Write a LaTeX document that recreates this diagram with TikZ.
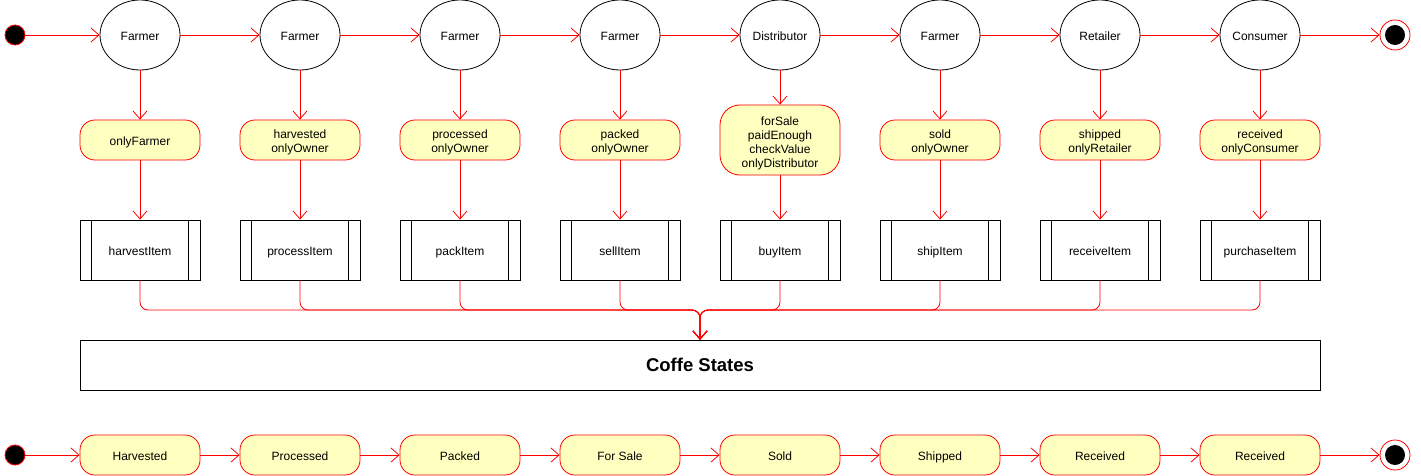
\documentclass[tikz,border=0pt]{standalone}
\usepackage{fontspec}
\setmainfont{Liberation Sans}
\usetikzlibrary{shapes.geometric,arrows.meta}
\definecolor{stred}{HTML}{FF0000}
\definecolor{styel}{HTML}{FFFFC0}
\tikzset{
  oneline/.style={text height=10.8pt,text depth=0pt},
  actor/.style={ellipse,draw=black,line width=0.8pt,minimum width=80pt,minimum height=70pt,inner sep=0pt,oneline,font=\fontsize{12}{14}\selectfont},
  guard/.style={rectangle,rounded corners=15pt,draw=stred,fill=styel,line width=0.8pt,minimum width=120pt,minimum height=40pt,inner sep=0pt,align=center,font=\fontsize{12}{14}\selectfont},
  statebox/.style={rectangle,rounded corners=15pt,draw=stred,fill=styel,line width=0.8pt,minimum width=120pt,minimum height=40pt,inner sep=0pt,oneline,font=\fontsize{12}{14}\selectfont},
  proc/.style={rectangle,draw=black,line width=0.8pt,minimum width=120pt,minimum height=60pt,inner sep=0pt,oneline,font=\fontsize{12}{14}\selectfont},
  startdot/.style={circle,draw=stred,fill=black,line width=0.8pt,minimum size=20pt,inner sep=0pt},
  enddot/.style={circle,draw=stred,fill=white,line width=0.8pt,minimum size=30pt,inner sep=0pt},
  conn/.style={draw=stred,line width=0.8pt,-{Straight Barb[length=8pt,width=14pt,line width=0.8pt]}},
}
\begin{document}
\begin{tikzpicture}[x=1pt,y=-1pt]
\useasboundingbox (0,0) rectangle (1421,476);
% top row
\node[startdot] (i1) at (15,35) {};
\node[enddot] (f1) at (1395,35) {};
\fill[black] (f1) circle (10pt);
\foreach \n/\x/\a/\g in {1/140/Farmer/onlyFarmer,2/300/Farmer/harvested\\onlyOwner,3/460/Farmer/processed\\onlyOwner,4/620/Farmer/packed\\onlyOwner,6/940/Farmer/sold\\onlyOwner,7/1100/Retailer/shipped\\onlyRetailer,8/1260/Consumer/received\\onlyConsumer}{
  \node[actor] (e\n) at (\x,35) {\a};
  \node[guard] (g\n) at (\x,140) {\rule{0pt}{13pt}\g};
}
\node[actor] (e5) at (780,35) {Distributor};
\node[guard,minimum height=70pt,rounded corners=20pt] (g5) at (780,140) {\rule{0pt}{15pt}forSale\\paidEnough\\checkValue\\onlyDistributor};
\foreach \n/\x/\p in {1/140/harvestItem,2/300/processItem,3/460/packItem,4/620/sellItem,5/780/buyItem,6/940/shipItem,7/1100/receiveItem,8/1260/purchaseItem}{
  \node[proc] (p\n) at (\x,250) {\p};
  \draw[line width=0.8pt] ([xshift=12pt]p\n.north west) -- ([xshift=12pt]p\n.south west);
  \draw[line width=0.8pt] ([xshift=-12pt]p\n.north east) -- ([xshift=-12pt]p\n.south east);
  \draw[conn] (e\n) -- (g\n);
  \draw[conn] (g\n) -- (p\n);
}
\draw[conn] (i1) -- (e1);
\foreach \a/\b in {1/2,2/3,3/4,4/5,5/6,6/7,7/8}{\draw[conn] (e\a) -- (e\b);}
\draw[conn] (e8) -- (f1);
% states box
\node[rectangle,draw=black,line width=0.8pt,minimum width=1240pt,minimum height=50pt,inner sep=0pt,font=\bfseries\fontsize{18.5}{20}\selectfont] (cs) at (700,365) {Coffe States};
\coordinate (m) at (700,310);
\foreach \n in {1,...,8}{\draw[conn,rounded corners=8pt] (p\n.south) |- (m) -- (cs.north);}
% bottom row
\node[startdot] (i2) at (15,455) {};
\node[enddot] (f2) at (1395,455) {};
\fill[black] (f2) circle (10pt);
\foreach \n/\x/\s in {1/140/Harvested,2/300/Processed,3/460/Packed,4/620/For Sale,5/780/Sold,6/940/Shipped,7/1100/Received,8/1260/Received}{
  \node[statebox] (b\n) at (\x,455) {\s};
}
\draw[conn] (i2) -- (b1);
\foreach \a/\b in {1/2,2/3,3/4,4/5,5/6,6/7,7/8}{\draw[conn] (b\a) -- (b\b);}
\draw[conn] (b8) -- (f2);
\end{tikzpicture}
\end{document}
